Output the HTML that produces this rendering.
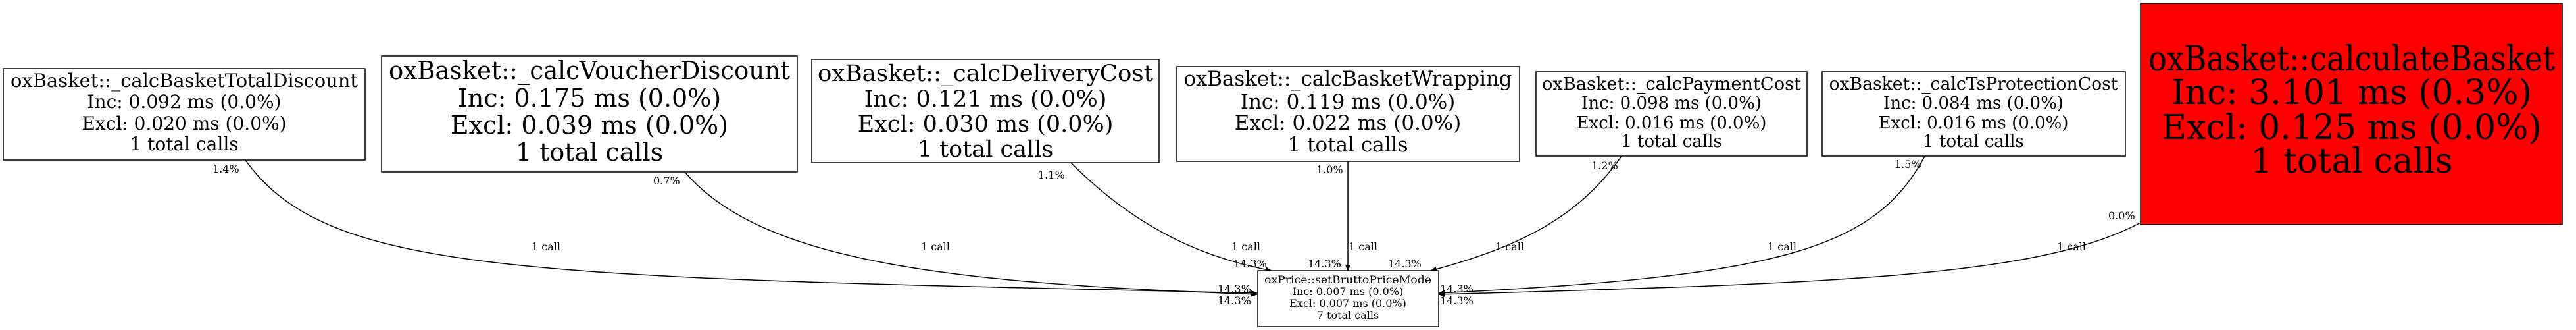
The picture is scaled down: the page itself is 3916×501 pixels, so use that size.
<!DOCTYPE html>
<html><head><meta charset="utf-8"><style>
html,body{margin:0;padding:0;background:#fff;}
svg{display:block;}
text{font-family:"DejaVu Serif","Liberation Serif",serif;fill:#000;}
</style></head><body>
<svg width="3916" height="501" viewBox="0 0 3916 501" xmlns="http://www.w3.org/2000/svg">
<defs><marker id="a" markerWidth="10" markerHeight="8" refX="9" refY="4" orient="auto" markerUnits="userSpaceOnUse"><path d="M0,0 L10,4 L0,8 z" fill="#000"/></marker></defs>
<g fill="none" stroke="#000" stroke-width="1.5">
<path d="M373,243 C500,420 800,420 1911,445" marker-end="url(#a)"/>
<path d="M1041,261 C1160,400 1450,430 1911,447" marker-end="url(#a)"/>
<path d="M1628,247 C1740,360 1850,395 1933,411" marker-end="url(#a)"/>
<path d="M2049,245 L2049,411" marker-end="url(#a)"/>
<path d="M2465,237 C2400,330 2310,375 2175,411" marker-end="url(#a)"/>
<path d="M2926,237 C2850,380 2700,420 2187,445" marker-end="url(#a)"/>
<path d="M3254,338 C3100,420 2800,430 2187,447" marker-end="url(#a)"/>
</g>
<g fill="#fff" stroke="#000" stroke-width="1.5">
<rect x="5" y="104" width="550" height="139"/>
<rect x="580" y="85" width="632" height="176"/>
<rect x="1234" y="90" width="528" height="157"/>
<rect x="1789" y="101" width="521" height="144"/>
<rect x="2335" y="109" width="412" height="128"/>
<rect x="2770" y="109" width="461" height="128"/>
<rect x="3254" y="5" width="641" height="336" fill="#ff0000"/>
<rect x="1912" y="411" width="275" height="85"/>
</g>
<g text-anchor="middle">
<g font-size="28"><text x="280" y="132" textLength="528" lengthAdjust="spacingAndGlyphs">oxBasket::_calcBasketTotalDiscount</text>
<text x="280" y="164">Inc: 0.092 ms (0.0%)</text><text x="280" y="197">Excl: 0.020 ms (0.0%)</text><text x="280" y="228">1 total calls</text></g>
<g font-size="38"><text x="896" y="120" textLength="610" lengthAdjust="spacingAndGlyphs">oxBasket::_calcVoucherDiscount</text>
<text x="896" y="162">Inc: 0.175 ms (0.0%)</text><text x="896" y="203">Excl: 0.039 ms (0.0%)</text><text x="896" y="244">1 total calls</text></g>
<g font-size="35"><text x="1498" y="123" textLength="510" lengthAdjust="spacingAndGlyphs">oxBasket::_calcDeliveryCost</text>
<text x="1498" y="162">Inc: 0.121 ms (0.0%)</text><text x="1498" y="200">Excl: 0.030 ms (0.0%)</text><text x="1498" y="238">1 total calls</text></g>
<g font-size="31"><text x="2049" y="130" textLength="499" lengthAdjust="spacingAndGlyphs">oxBasket::_calcBasketWrapping</text>
<text x="2049" y="165">Inc: 0.119 ms (0.0%)</text><text x="2049" y="197">Excl: 0.022 ms (0.0%)</text><text x="2049" y="230">1 total calls</text></g>
<g font-size="26"><text x="2541" y="136" textLength="394" lengthAdjust="spacingAndGlyphs">oxBasket::_calcPaymentCost</text>
<text x="2541" y="165">Inc: 0.098 ms (0.0%)</text><text x="2541" y="195">Excl: 0.016 ms (0.0%)</text><text x="2541" y="223">1 total calls</text></g>
<g font-size="26"><text x="3000" y="136" textLength="439" lengthAdjust="spacingAndGlyphs">oxBasket::_calcTsProtectionCost</text>
<text x="3000" y="165">Inc: 0.084 ms (0.0%)</text><text x="3000" y="195">Excl: 0.016 ms (0.0%)</text><text x="3000" y="223">1 total calls</text></g>
<g font-size="52"><text x="3575" y="107" textLength="618" lengthAdjust="spacingAndGlyphs">oxBasket::calculateBasket</text>
<text x="3575" y="158">Inc: 3.101 ms (0.3%)</text><text x="3575" y="211">Excl: 0.125 ms (0.0%)</text><text x="3575" y="262">1 total calls</text></g>
<g font-size="16"><text x="2049" y="430" textLength="254" lengthAdjust="spacingAndGlyphs">oxPrice::setBruttoPriceMode</text>
<text x="2049" y="448">Inc: 0.007 ms (0.0%)</text><text x="2049" y="466">Excl: 0.007 ms (0.0%)</text><text x="2049" y="484">7 total calls</text></g>
</g>
<g font-size="16">
<text x="323" y="262">1.4%</text><text x="993" y="280">0.7%</text><text x="1578" y="271">1.1%</text><text x="2001" y="263">1.0%</text>
<text x="2419" y="257">1.2%</text><text x="2880" y="255">1.5%</text><text x="3205" y="333">0.0%</text>
<text x="808" y="380">1 call</text><text x="1400" y="380">1 call</text><text x="1872" y="380">1 call</text><text x="2050" y="380">1 call</text>
<text x="2273" y="380">1 call</text><text x="2687" y="380">1 call</text><text x="3127" y="380">1 call</text>
<text x="1875" y="406">14.3%</text><text x="1988" y="406">14.3%</text><text x="2110" y="406">14.3%</text>
<text x="1851" y="444">14.3%</text><text x="1851" y="462">14.3%</text>
<text x="2189" y="444">14.3%</text><text x="2189" y="462">14.3%</text>
</g>
</svg>
</body></html>
